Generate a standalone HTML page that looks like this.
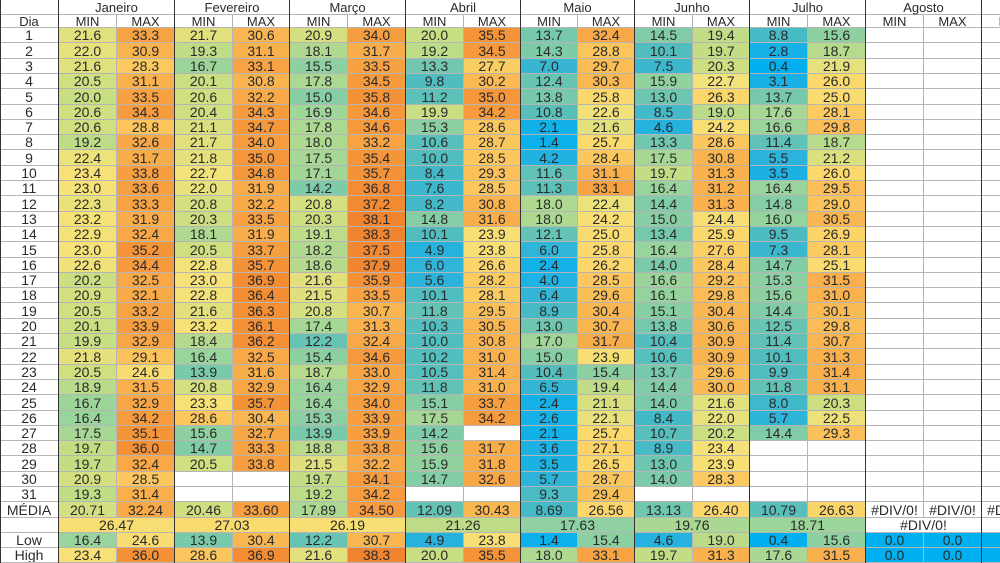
<!DOCTYPE html>
<html><head><meta charset="utf-8"><style>
body{margin:0;width:1000px;height:563px;overflow:hidden;background:#fff;font-family:"Liberation Sans",sans-serif;}
#t{position:relative;width:1000px;height:563px;}
.c{position:absolute;box-sizing:border-box;border-right:1px solid #b5b5b5;border-bottom:1px solid #b5b5b5;font-size:14px;line-height:14px;color:#2a2a2a;display:flex;align-items:center;justify-content:center;white-space:nowrap;overflow:hidden}
.hd{font-size:13px;line-height:13px;overflow:visible}
.vl{position:absolute;top:0;width:1px;background:#333;}
</style></head><body><div id="t"></div>
<script>
var X=[0,59,117,175,233,290,348,406,464,521,578,635,693,750,808,866,924,982,1040];
var H0=0,H1=15,D0=28,P=15.3;
var months=["Janeiro","Fevereiro","Março","Abril","Maio","Junho","Julho","Agosto"];
var E='';
var data=[
[21.6,22.0,21.6,20.5,20.0,20.6,20.6,19.2,22.4,23.4,23.0,22.3,23.2,22.9,23.0,22.6,20.2,20.9,20.5,20.1,19.9,21.8,20.5,18.9,16.7,16.4,17.5,19.7,19.7,20.9,19.3],
[33.3,30.9,28.3,31.1,33.5,34.3,28.8,32.6,31.7,33.8,33.6,33.3,31.9,32.4,35.2,34.4,32.5,32.1,33.2,33.9,32.9,29.1,24.6,31.5,32.9,34.2,35.1,36.0,32.4,28.5,31.4],
[21.7,19.3,16.7,20.1,20.6,20.4,21.1,21.7,21.8,22.7,22.0,20.8,20.3,18.1,20.5,22.8,23.0,22.8,21.6,23.2,18.4,16.4,13.9,20.8,23.3,28.6,15.6,14.7,20.5,E,E],
[30.6,31.1,33.1,30.8,32.2,34.3,34.7,34.0,35.0,34.8,31.9,32.2,33.5,31.9,33.7,35.7,36.9,36.4,36.3,36.1,36.2,32.5,31.6,32.9,35.7,30.4,32.7,33.3,33.8,E,E],
[20.9,18.1,15.5,17.8,15.0,16.9,17.8,18.0,17.5,17.1,14.2,20.8,20.3,19.1,18.2,18.6,21.6,21.5,20.8,17.4,12.2,15.4,18.7,16.4,16.4,15.3,13.9,18.8,21.5,19.7,19.2],
[34.0,31.7,33.5,34.5,35.8,34.6,34.6,33.2,35.4,35.7,36.8,37.2,38.1,38.3,37.5,37.9,35.9,33.5,30.7,31.3,32.4,34.6,33.0,32.9,34.0,33.9,33.9,33.8,32.2,34.1,34.2],
[20.0,19.2,13.3,9.8,11.2,19.9,15.3,10.6,10.0,8.4,7.6,8.2,14.8,10.1,4.9,6.0,5.6,10.1,11.8,10.3,10.0,10.2,10.5,11.8,15.1,17.5,14.2,15.6,15.9,14.7,E],
[35.5,34.5,27.7,30.2,35.0,34.2,28.6,28.7,28.5,29.3,28.5,30.8,31.6,23.9,23.8,26.6,28.2,28.1,29.5,30.5,30.8,31.0,31.4,31.0,33.7,34.2,E,31.7,31.8,32.6,E],
[13.7,14.3,7.0,12.4,13.8,10.8,2.1,1.4,4.2,11.6,11.3,18.0,18.0,12.1,6.0,2.4,4.0,6.4,8.9,13.0,17.0,15.0,10.4,6.5,2.4,2.6,2.1,3.6,3.5,5.7,9.3],
[32.4,28.8,29.7,30.3,25.8,22.6,21.6,25.7,28.4,31.1,33.1,22.4,24.2,25.0,25.8,26.2,28.5,29.6,30.4,30.7,31.7,23.9,15.4,19.4,21.1,22.1,25.7,27.1,26.5,28.7,29.4],
[14.5,10.1,7.5,15.9,13.0,8.5,4.6,13.3,17.5,19.7,16.4,14.4,15.0,13.4,16.4,14.0,16.6,16.1,15.1,13.8,10.4,10.6,13.7,14.4,14.0,8.4,10.7,8.9,13.0,14.0,E],
[19.4,19.7,20.3,22.7,26.3,19.0,24.2,28.6,30.8,31.3,31.2,31.3,24.4,25.9,27.6,28.4,29.2,29.8,30.4,30.6,30.9,30.9,29.6,30.0,21.6,22.0,20.2,23.4,23.9,28.3,E],
[8.8,2.8,0.4,3.1,13.7,17.6,16.6,11.4,5.5,3.5,16.4,14.8,16.0,9.5,7.3,14.7,15.3,15.6,14.4,12.5,11.4,10.1,9.9,11.8,8.0,5.7,14.4,E,E,E,E],
[15.6,18.7,21.9,26.0,25.0,28.1,29.8,18.7,21.2,26.0,29.5,29.0,30.5,26.9,28.1,25.1,31.5,31.0,30.1,29.8,30.7,31.3,31.4,31.1,20.3,22.5,29.3,E,E,E,E]
];
var media=["20.71","32.24","20.46","33.60","17.89","34.50","12.09","30.43","8.69","26.56","13.13","26.40","10.79","26.63","#DIV/0!","#DIV/0!","#DIV/0!"];
var avg=["26.47","27.03","26.19","21.26","17.63","19.76","18.71","#DIV/0!"];
var low=[16.4,24.6,13.9,30.4,12.2,30.7,4.9,23.8,1.4,15.4,4.6,19.0,0.4,15.6,0.0,0.0,0.0];
var high=[23.4,36.0,28.6,36.9,21.6,38.3,20.0,35.5,18.0,33.1,19.7,31.3,17.6,31.5,0.0,0.0,0.0];
var st=[[0,[0,176,240]],[5,[40,178,222]],[9,[72,186,196]],[13,[110,198,176]],[17,[160,214,152]],[20,[200,222,130]],[23,[246,226,120]],[27,[252,212,104]],[31,[249,178,78]],[35,[245,150,58]],[39,[240,128,44]]];
function col(v){if(v<=0)return 'rgb(0,176,240)';for(var i=1;i<st.length;i++){if(v<=st[i][0]){var a=st[i-1],b=st[i],f=(v-a[0])/(b[0]-a[0]);return 'rgb('+[0,1,2].map(k=>Math.round(a[1][k]+(b[1][k]-a[1][k])*f)).join(',')+')';}}return 'rgb(240,128,44)';}
var h='';
function cell(x0,x1,y0,y1,t,bg,cl){h+='<div class="c'+(cl?' '+cl:'')+'" style="left:'+x0+'px;top:'+y0+'px;width:'+(x1-x0)+'px;height:'+(y1-y0)+'px;background:'+(bg||'#fff')+'">'+t+'</div>';}
var yr=i=>Math.round(D0+i*P);
cell(0,59,H0,H1,'',0,'hd');cell(0,59,H1,D0,'Dia',0,'hd');
for(var m=0;m<8;m++){cell(X[1+2*m],X[3+2*m],H0,H1,months[m],0,'hd');cell(X[1+2*m],X[2+2*m],H1,D0,'MIN',0,'hd');cell(X[2+2*m],X[3+2*m],H1,D0,'MAX',0,'hd');}
cell(X[17],X[18],H0,H1,'',0,'hd');cell(X[17],X[18],H1,D0,'MIN',0,'hd');
for(var r=0;r<31;r++){cell(0,59,yr(r),yr(r+1),r+1);
 for(var c=0;c<17;c++){var v=c<14?data[c][r]:E;cell(X[c+1],X[c+2],yr(r),yr(r+1),v===E?'':v.toFixed(1),v===E?'#fff':col(v));}}
cell(0,59,yr(31),yr(32),'MÉDIA');
for(var c=0;c<17;c++){var s=media[c];cell(X[c+1],X[c+2],yr(31),yr(32),s,s[0]=='#'?'#fff':col(parseFloat(s)));}
cell(0,59,yr(32),yr(33),'');
for(var m=0;m<8;m++){var s=avg[m];cell(X[1+2*m],X[3+2*m],yr(32),yr(33),s,s[0]=='#'?'#fff':col(parseFloat(s)-2));}
cell(X[17],X[18],yr(32),yr(33),'');
cell(0,59,yr(33),yr(34),'Low');cell(0,59,yr(34),563,'High');
for(var c=0;c<17;c++){cell(X[c+1],X[c+2],yr(33),yr(34),low[c].toFixed(1),col(low[c]));cell(X[c+1],X[c+2],yr(34),563,high[c].toFixed(1),col(high[c]));}
for(var m=0;m<=9;m++){var x=X[1+2*m]-1;h+='<div class="vl" style="left:'+x+'px;height:563px"></div>';}
h+='<div class="vl" style="left:58px;height:563px"></div>';
document.getElementById('t').innerHTML=h;
</script></body></html>
